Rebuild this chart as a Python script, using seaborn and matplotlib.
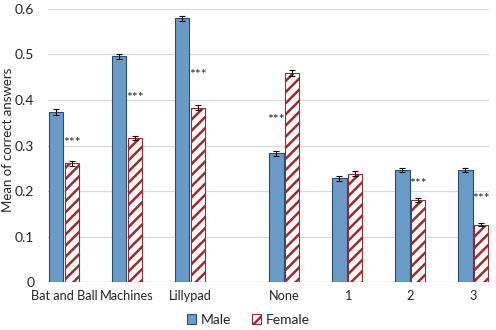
import pandas as pd
import matplotlib
matplotlib.use("Agg")
import matplotlib.pyplot as plt
import seaborn as sns

# data
categories = ["Bat and Ball", "Machines", "Lillypad", "None", "1", "2", "3"]
positions = [0, 1, 2, 3.5, 4.5, 5.5, 6.5]
male = [0.374, 0.496, 0.579, 0.283, 0.228, 0.246, 0.246]
female = [0.261, 0.317, 0.383, 0.459, 0.238, 0.180, 0.126]
male_err = [0.006, 0.006, 0.006, 0.006, 0.005, 0.005, 0.005]
female_err = [0.005, 0.005, 0.005, 0.006, 0.005, 0.004, 0.003]
# significance marks: which bar they sit over and at what height
star_side = ["Female", "Female", "Female", "Male", None, "Female", "Female"]
star_y = [0.305, 0.405, 0.455, 0.355, None, 0.215, 0.182]

BLUE = "#5B9BD5"
RED = "#9E2A2E"
TXT = "#262626"

sns.set_theme(style="white")
plt.rcParams["font.family"] = ["Lato", "DejaVu Sans"]
plt.rcParams["hatch.linewidth"] = 1.8

df = pd.DataFrame({
    "pos": positions * 2,
    "value": male + female,
    "err": male_err + female_err,
    "sex": ["Male"] * len(male) + ["Female"] * len(female),
})

fig = plt.figure(figsize=(4.96, 3.30), dpi=100)
ax = fig.add_axes([0.097, 0.145, 0.889, 0.828])

sns.barplot(data=df, x="pos", y="value", hue="sex", native_scale=True,
            width=0.5, gap=0.1, errorbar=None, palette=[BLUE, "white"],
            legend=False, ax=ax, zorder=2)

for bar in ax.containers[0]:
    bar.set_edgecolor("#2B4B6E")
    bar.set_linewidth(0.8)
for bar in ax.containers[1]:
    bar.set_facecolor("white")
    bar.set_edgecolor(RED)
    bar.set_hatch("///")
    bar.set_linewidth(0.8)

off = 0.125
ax.errorbar([p - off for p in positions], male, yerr=male_err, fmt="none",
            ecolor="black", elinewidth=0.8, capsize=2, capthick=0.8, zorder=3)
ax.errorbar([p + off for p in positions], female, yerr=female_err, fmt="none",
            ecolor="black", elinewidth=0.8, capsize=2, capthick=0.8, zorder=3)

for p, side, y in zip(positions, star_side, star_y):
    if side is None:
        continue
    x = p + off if side == "Female" else p - off
    ax.text(x, y, "***", ha="center", va="center", fontsize=10, color=TXT)

ax.set_xlim(-0.25, 6.75)
ax.set_ylim(0, 0.6)
ax.set_xticks(positions)
ax.set_xticklabels(categories)
ax.set_yticks([0, 0.1, 0.2, 0.3, 0.4, 0.5, 0.6])
ax.set_yticklabels(["0", "0.1", "0.2", "0.3", "0.4", "0.5", "0.6"])
ax.tick_params(axis="both", length=0, colors=TXT)
ax.tick_params(axis="y", pad=10, labelsize=10)
ax.tick_params(axis="x", pad=6, labelsize=9.2)
ax.yaxis.grid(True, color="#D9D9D9", linewidth=0.9, zorder=0)
ax.set_axisbelow(True)
for s in ax.spines.values():
    s.set_visible(False)
ax.axhline(0, color="#D9D9D9", linewidth=0.9, zorder=1)

ax.set_xlabel("")
ax.set_ylabel("Mean of correct answers", fontsize=9.5, color=TXT)
ax.yaxis.set_label_coords(-0.078, 0.52)

handles = [ax.containers[0][0], ax.containers[1][0]]
fig.legend(handles, ["Male", "Female"], loc="center", bbox_to_anchor=(0.5, 0.03),
           ncol=2, frameon=False, fontsize=10, handlelength=0.7, handleheight=0.7,
           handletextpad=0.3, columnspacing=1.5)

fig.savefig("out.png", dpi=100)
